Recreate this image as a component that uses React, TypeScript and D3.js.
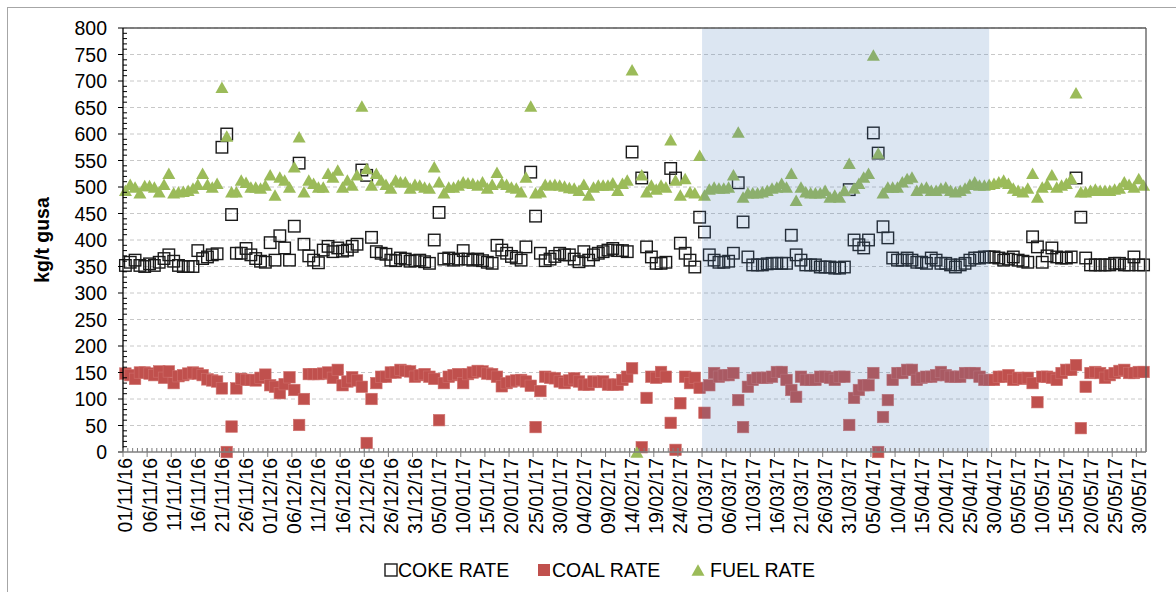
import React from 'react';
import * as d3 from 'd3';

const W = 1176;
const H = 592;

// categories: one per day, 01/11/2016 .. 31/05/2017
const days = d3.timeDay.range(new Date(2016, 10, 1), new Date(2017, 5, 1));
const fmt = d3.timeFormat('%d/%m/%y');
const categories = days.map((d) => fmt(d));

const tickLabels = [
  '01/11/16', '06/11/16', '11/11/16', '16/11/16', '21/11/16', '26/11/16', '01/12/16', '06/12/16',
  '11/12/16', '16/12/16', '21/12/16', '26/12/16', '31/12/16', '05/01/17', '10/01/17', '15/01/17',
  '20/01/17', '25/01/17', '30/01/17', '04/02/17', '09/02/17', '14/02/17', '19/02/17', '24/02/17',
  '01/03/17', '06/03/17', '11/03/17', '16/03/17', '21/03/17', '26/03/17', '31/03/17', '05/04/17',
  '10/04/17', '15/04/17', '20/04/17', '25/04/17', '30/04/17', '05/05/17', '10/05/17', '15/05/17',
  '20/05/17', '25/05/17', '30/05/17',
];

const shadeStart = '01/03/17';
const shadeEnd = '29/04/17';

const yTicks = d3.range(0, 801, 50);

const cokeRate: (number | null)[] = [
  352, 358, 362, 352, 350, 355, 352, 358, 365, 372, 360, 352, 350, 350, 350, 380, 365, 368, 372, 374,
  575, 600, 448, 375, 375, 384, 372, 365, 360, 358, 395, 362, 408, 385, 362, 426, 545, 392, 370, 362,
  357, 381, 388, 378, 385, 379, 381, 388, 392, 532, 522, 405, 378, 375, 373, 362, 361, 366, 364, 360,
  361, 362, 359, 356, 400, 452, 364, 366, 362, 364, 380, 364, 362, 364, 361, 358, 356, 390, 381, 375,
  369, 366, 362, 387, 528, 445, 375, 361, 364, 369, 375, 372, 372, 364, 359, 378, 362, 372, 375, 378,
  381, 384, 380, 380, 378, 566, null, 517, 387, 368, 356, 356, 358, 535, 517, 394, 375, 362, 349, 443,
  415, 372, 362, 358, 358, 360, 375, 508, 434, 368, 353, 353, 353, 355, 356, 356, 356, 356, 409, 372,
  362, 353, 353, 353, 349, 349, 349, 347, 347, 349, 495, 400, 391, 385, 400, 602, 564, 425, 404, 366,
  362, 362, 366, 362, 358, 358, 356, 366, 362, 356, 356, 353, 349, 353, 356, 362, 366, 366, 368, 368,
  368, 366, 362, 364, 368, 362, 360, 358, 406, 387, 358, 370, 385, 368, 366, 366, 368, 517, 443, 366,
  353, 353, 353, 353, 353, 356, 356, 353, 353, 368, 353, 353,
];

const coalRate: (number | null)[] = [
  148, 145, 138, 150, 150, 148, 145, 152, 140, 152, 130, 143, 145, 148, 150, 148, 145, 137, 135, 133,
  120, 0, 48, 120, 138, 136, 136, 135, 140, 146, 126, 123, 111, 128, 141, 117, 51, 100, 147, 147,
  147, 148, 150, 140, 155, 126, 133, 141, 135, 123, 17, 100, 130, 142, 142, 150, 150, 155, 153, 152,
  142, 145, 147, 142, 138, 60, 130, 142, 145, 147, 130, 147, 150, 153, 152, 148, 147, 142, 124, 130,
  133, 135, 136, 133, 125, 47, 115, 142, 140, 139, 133, 130, 135, 139, 133, 127, 127, 133, 132, 133,
  127, 127, 127, 136, 142, 158, null, 9, 102, 142, 140, 151, 142, 55, 4, 92, 142, 130, 140, 121,
  74, 126, 149, 142, 145, 145, 149, 98, 47, 123, 136, 140, 140, 140, 142, 151, 151, 136, 117, 104,
  142, 136, 136, 136, 142, 142, 140, 136, 142, 142, 51, 102, 117, 126, 126, 149, 0, 66, 98, 136,
  149, 149, 155, 155, 136, 140, 142, 142, 145, 151, 145, 142, 142, 142, 149, 149, 149, 142, 136, 136,
  136, 142, 142, 145, 136, 140, 138, 140, 130, 94, 142, 142, 140, 136, 149, 155, 155, 164, 45, 123,
  149, 151, 149, 140, 145, 149, 153, 155, 149, 149, 151, 151,
];

const fuelRate: (number | null)[] = [
  494, 505, 500, 489, 503, 503, 500, 491, 505, 526, 489, 491, 492, 494, 498, 505, 526, 505, 500, 507,
  688, 596, 491, 491, 513, 509, 500, 500, 498, 504, 523, 485, 519, 513, 500, 538, 595, 491, 513, 507,
  500, 500, 526, 519, 532, 500, 513, 504, 523, 653, 535, 504, 526, 513, 505, 498, 513, 510, 510, 498,
  505, 504, 500, 498, 538, 510, 489, 500, 500, 504, 510, 508, 507, 504, 510, 498, 505, 528, 508, 505,
  500, 498, 491, 519, 653, 489, 491, 505, 504, 505, 504, 502, 499, 498, 494, 505, 485, 500, 504, 504,
  504, 508, 494, 507, 513, 721, 0, 523, 491, 504, 496, 504, 500, 589, 513, 485, 516, 491, 489, 560,
  485, 496, 500, 498, 498, 500, 523, 604, 481, 489, 489, 489, 491, 494, 498, 500, 507, 500, 526, 475,
  500, 491, 489, 489, 489, 494, 481, 485, 481, 494, 545, 498, 507, 519, 526, 749, 564, 489, 500, 500,
  500, 510, 516, 519, 494, 498, 500, 494, 494, 498, 500, 494, 491, 494, 498, 505, 510, 504, 504, 505,
  507, 510, 513, 507, 498, 494, 491, 498, 526, 481, 500, 505, 523, 500, 504, 507, 516, 678, 491, 491,
  494, 496, 494, 494, 494, 496, 498, 510, 505, 500, 516, 504,
];

const seriesNames = ['COKE RATE', 'COAL RATE', 'FUEL RATE'];
const yTitle = 'kg/t gusa';

const FONT = 'Liberation Sans, Arial, sans-serif';

export default function App() {
  const left = 123;
  const right = 1146;
  const top = 28;
  const bottom = 452;

  const x = d3.scaleBand<string>().domain(categories).range([left, right]).padding(0);
  const y = d3.scaleLinear().domain([0, 800]).range([bottom, top]);
  const bw = x.bandwidth();
  const cx = (c: string) => (x(c) as number) + bw / 2;

  const minorY = d3.range(0, 801, 10).filter((v) => v % 50 !== 0);
  const tickSet = new Set(tickLabels);

  const sq = 11.5;
  const triPath = (px: number, py: number) => {
    const s = 13;
    const h = 11.5;
    return `M${px - s / 2},${py + h / 2}L${px + s / 2},${py + h / 2}L${px},${py - h / 2}Z`;
  };

  const shadeX0 = x(shadeStart) as number;
  const shadeX1 = cx(shadeEnd);

  const legendY = 570;
  const legend = [
    { name: seriesNames[0], mx: 391, tx: 398 },
    { name: seriesNames[1], mx: 544, tx: 552 },
    { name: seriesNames[2], mx: 698, tx: 710 },
  ];

  return (
    <svg
      width={W}
      height={H}
      style={{ position: 'absolute', left: 0, top: 0, background: '#fff' }}
      fontFamily={FONT}
    >
      <rect x={0} y={0} width={W} height={H} fill="#fff" />
      {/* outer frame */}
      <rect x={7.5} y={7.5} width={W + 10} height={H + 10} fill="none" stroke="#a6a6a6" strokeWidth={1} />

      {/* gridlines */}
      {yTicks.filter((v) => v > 0).map((v) => (
        <line key={'g' + v} x1={left} x2={right} y1={y(v)} y2={y(v)} stroke="#c8c8c8" strokeWidth={1} strokeDasharray="4,3" />
      ))}

      {/* coke */}
      {categories.map((c, i) =>
        cokeRate[i] == null ? null : (
          <rect key={'k' + i} x={cx(c) - sq / 2} y={y(cokeRate[i] as number) - sq / 2} width={sq} height={sq}
            fill="none" stroke="#1a1a1a" strokeWidth={1.4} />
        )
      )}
      {/* coal */}
      {categories.map((c, i) =>
        coalRate[i] == null ? null : (
          <rect key={'c' + i} x={cx(c) - sq / 2} y={y(coalRate[i] as number) - sq / 2} width={sq} height={sq}
            fill="#C0504D" stroke="#cf6f6c" strokeWidth={0.6} />
        )
      )}
      {/* fuel */}
      {categories.map((c, i) =>
        fuelRate[i] == null ? null : (
          <path key={'f' + i} d={triPath(cx(c), y(fuelRate[i] as number))} fill="#9BBB59" />
        )
      )}

      {/* shaded period */}
      <rect x={shadeX0} y={top} width={shadeX1 - shadeX0} height={bottom - top} fill="#4F81BD" fillOpacity={0.2} />

      {/* plot border top/right */}
      <line x1={left} x2={right} y1={top} y2={top} stroke="#595959" strokeWidth={1.3} />
      <line x1={right} x2={right} y1={top} y2={bottom} stroke="#595959" strokeWidth={1.3} />

      {/* y axis */}
      <line x1={left} x2={left} y1={top} y2={bottom} stroke="#000" strokeWidth={1.3} />
      {yTicks.map((v) => (
        <line key={'yt' + v} x1={left - 5} x2={left} y1={y(v)} y2={y(v)} stroke="#000" strokeWidth={1} />
      ))}
      {minorY.map((v) => (
        <line key={'ym' + v} x1={left} x2={left + 4} y1={y(v)} y2={y(v)} stroke="#000" strokeWidth={1} />
      ))}
      {yTicks.map((v) => (
        <text key={'yl' + v} x={107} y={y(v)} dy="0.36em" textAnchor="end" fontSize={19.5} fill="#000">
          {v}
        </text>
      ))}

      {/* x axis */}
      <line x1={left} x2={right} y1={bottom} y2={bottom} stroke="#7f7f7f" strokeWidth={1.3} />
      {categories.map((c, i) => (
        <line key={'xm' + i} x1={x(c) as number} x2={x(c) as number} y1={bottom - 4} y2={bottom}
          stroke="#7f7f7f" strokeWidth={1} />
      ))}
      {categories.filter((c) => tickSet.has(c)).map((c) => (
        <line key={'xM' + c} x1={x(c) as number} x2={x(c) as number} y1={bottom - 4} y2={bottom + 5}
          stroke="#7f7f7f" strokeWidth={1} />
      ))}
      {categories.filter((c) => tickSet.has(c)).map((c) => (
        <text key={'xl' + c} transform={`translate(${cx(c)},${bottom + 6}) rotate(-90)`} dy="0.36em"
          textAnchor="end" fontSize={19.5} fill="#000">
          {c}
        </text>
      ))}

      {/* y title */}
      <text transform={`translate(42,${(top + bottom) / 2}) rotate(-90)`} textAnchor="middle" dy="0.36em"
        fontSize={19.5} fontWeight="bold" fill="#000">
        {yTitle}
      </text>

      {/* legend */}
      <rect x={legend[0].mx - 6} y={legendY - 6} width={12} height={12} fill="none" stroke="#1a1a1a" strokeWidth={1.4} />
      <rect x={legend[1].mx - 6} y={legendY - 6} width={12} height={12} fill="#C0504D" />
      <path d={triPath(legend[2].mx, legendY)} fill="#9BBB59" />
      {legend.map((l) => (
        <text key={l.name} x={l.tx} y={legendY} dy="0.36em" fontSize={19.5} fill="#000">
          {l.name}
        </text>
      ))}
    </svg>
  );
}
